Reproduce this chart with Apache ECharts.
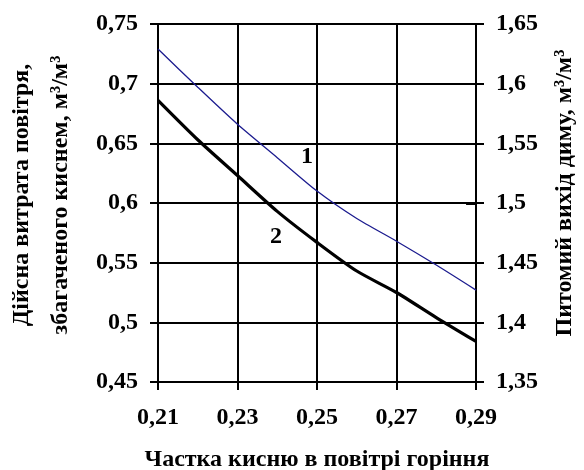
<!DOCTYPE html>
<html>
<head>
<meta charset="utf-8">
<script src="https://cdn.jsdelivr.net/npm/echarts@6/dist/echarts.min.js"></script>
<style>
  html, body { margin: 0; padding: 0; background: #fff; }
  #chart { width: 584px; height: 470px; }
</style>
</head>
<body>
<div id="chart"></div>
<script>
// Oxygen fraction in combustion air
const oxygenShare = [0.21, 0.22, 0.23, 0.24, 0.25, 0.26, 0.27, 0.28, 0.29];
// Curve 1: actual consumption of oxygen-enriched air, m3/m3 (left axis)
const airConsumption = [0.729, 0.697, 0.666, 0.638, 0.610, 0.587, 0.568, 0.548, 0.527];
// Curve 2: specific smoke yield, m3/m3 (right axis)
const smokeYield = [1.586, 1.553, 1.523, 1.493, 1.467, 1.443, 1.425, 1.404, 1.384];
// Tick settings
const xTicks = { min: 0.21, max: 0.29, step: 0.02 };
const leftTicks = { min: 0.45, max: 0.75, step: 0.05 };
const rightTicks = { min: 1.35, max: 1.65, step: 0.05 };
// Curve number labels [x, y on left axis, text]
const curveTags = [[0.2475, 0.6385, '1'], [0.2397, 0.5715, '2']];
// Short marker on the right axis at 1,5
const rightMarker = [[0.2875, 1.5], [0.29, 1.5]];

const FONT = "'Liberation Serif', 'Times New Roman', serif";
const comma = v => String(Math.round(v * 100) / 100).replace('.', ',');
const lineStyle = { color: '#000', width: 2 };
const tickLabel = { fontFamily: FONT, fontWeight: 'bold', fontSize: 24, color: '#000' };

const chart = echarts.init(document.getElementById('chart'), null, { renderer: 'canvas' });
chart.setOption({
  backgroundColor: '#fff',
  animation: false,
  grid: { left: 158, right: 108, top: 24, bottom: 88, containLabel: false, outerBoundsMode: 'none' },
  xAxis: {
    type: 'value', min: xTicks.min, max: xTicks.max, interval: xTicks.step,
    name: 'Частка кисню в повітрі горіння',
    nameLocation: 'middle', nameGap: 66,
    nameTextStyle: { fontFamily: FONT, fontWeight: 'bold', fontSize: 24, color: '#000' },
    axisLine: { show: true, lineStyle },
    axisTick: { show: true, length: 8, lineStyle },
    splitLine: { show: true, lineStyle },
    axisLabel: Object.assign({ margin: 24, formatter: v => comma(v) }, tickLabel)
  },
  yAxis: [
    {
      type: 'value', position: 'left',
      min: leftTicks.min, max: leftTicks.max, interval: leftTicks.step,
      name: 'Дійсна витрата повітря,\nзбагаченого киснем, м³/м³',
      nameLocation: 'middle', nameGap: 78,
      nameTextStyle: {
        fontFamily: FONT, fontWeight: 'bold', fontSize: 24, color: '#000',
        lineHeight: 39, padding: [0, 0, 0, 16]
      },
      axisLine: { show: true, lineStyle },
      axisTick: { show: true, length: 8, lineStyle },
      splitLine: { show: true, lineStyle },
      axisLabel: Object.assign({ margin: 20, formatter: v => comma(v) }, tickLabel)
    },
    {
      type: 'value', position: 'right',
      min: rightTicks.min, max: rightTicks.max, interval: rightTicks.step,
      name: 'Питомий вихід диму, м³/м³',
      nameLocation: 'middle', nameGap: 77,
      nameTextStyle: {
        fontFamily: FONT, fontWeight: 'bold', fontSize: 24, color: '#000',
        padding: [0, 0, 0, 20]
      },
      axisLine: { show: true, lineStyle },
      axisTick: { show: true, length: 8, lineStyle },
      splitLine: { show: false },
      axisLabel: Object.assign({ margin: 20, formatter: v => comma(v) }, tickLabel)
    }
  ],
  series: [
    {
      type: 'line', yAxisIndex: 0, smooth: 0.25, symbol: 'none',
      data: oxygenShare.map((x, i) => [x, airConsumption[i]]),
      lineStyle: { color: '#1c1c8f', width: 1.3 }
    },
    {
      type: 'line', yAxisIndex: 1, smooth: 0.25, symbol: 'none',
      data: oxygenShare.map((x, i) => [x, smokeYield[i]]),
      lineStyle: { color: '#000', width: 3.2 },
      markLine: {
        silent: true, symbol: 'none', label: { show: false },
        lineStyle: { color: '#000', width: 3, type: 'solid' },
        data: [[{ coord: rightMarker[0] }, { coord: rightMarker[1] }]]
      }
    },
    {
      type: 'scatter', yAxisIndex: 0, symbolSize: 1,
      itemStyle: { color: 'rgba(0,0,0,0)' },
      data: curveTags.map(t => ({ value: [t[0], t[1]], tag: t[2] })),
      label: {
        show: true, position: 'inside', opacity: 1,
        formatter: p => p.data.tag,
        fontFamily: FONT, fontWeight: 'bold', fontSize: 24, color: '#000'
      }
    }
  ]
});
</script>
</body>
</html>
